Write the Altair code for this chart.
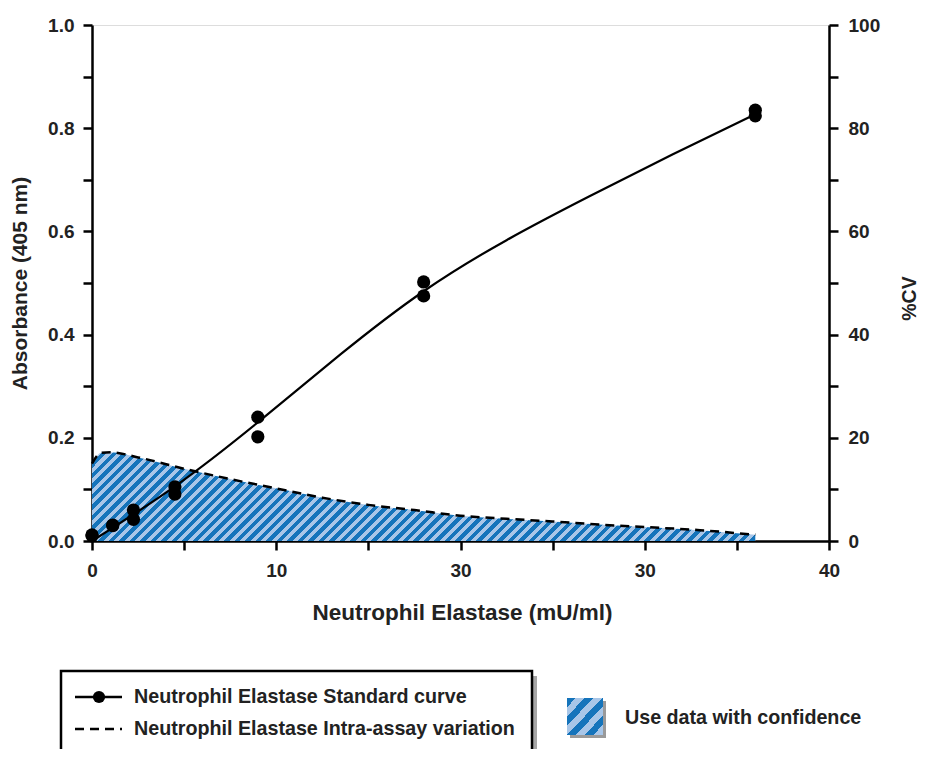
import altair as alt
import pandas as pd

# ---------------- data ----------------
std_conc = [0, 0, 1.125, 1.125, 2.25, 2.25, 4.5, 4.5, 9, 9, 18, 18, 36, 36]
std_abs = [0.012, 0.010, 0.031, 0.030, 0.060, 0.042, 0.105, 0.091, 0.240, 0.202, 0.502, 0.475, 0.835, 0.824]

fit_conc = [0, 4.5, 9, 13.5, 18, 22.5, 27, 31.5, 36]
fit_abs = [0.0, 0.106, 0.230, 0.362, 0.484, 0.583, 0.668, 0.749, 0.827]

cv_conc = [0, 0.5, 1, 2.5, 5, 7.5, 10, 12.5, 15, 17.5, 20, 22.5, 25, 27.5, 30, 33, 36]
cv_pct = [15.0, 17.1, 17.2, 16.2, 14.0, 12.0, 10.2, 8.4, 7.0, 6.0, 4.9, 4.3, 3.8, 3.2, 2.7, 2.1, 1.2]

x_tick_values = [0, 5, 10, 15, 20, 25, 30, 35, 40]
x_tick_labels = {0: "0", 10: "10", 20: "30", 30: "30", 40: "40"}
y_tick_values = [0.0, 0.1, 0.2, 0.3, 0.4, 0.5, 0.6, 0.7, 0.8, 0.9, 1.0]
y_tick_labels = {0.0: "0.0", 0.2: "0.2", 0.4: "0.4", 0.6: "0.6", 0.8: "0.8", 1.0: "1.0"}
cv_tick_values = [0, 10, 20, 30, 40, 50, 60, 70, 80, 90, 100]
cv_tick_labels = {0: "0", 20: "20", 40: "40", 60: "60", 80: "80", 100: "100"}

legend_labels = ["Neutrophil Elastase Standard curve",
                 "Neutrophil Elastase Intra-assay variation"]
zone_label = "Use data with confidence"
x_title = "Neutrophil Elastase (mU/ml)"
y_title = "Absorbance (405 nm)"
cv_title = "%CV"

# ---------------- styling ----------------
FONT = "Liberation Sans, Arial, Helvetica, sans-serif"
TXT = "#222222"
DARK = "#1574BB"
LIGHT = "#A8C6E8"
W, H = 737, 516


def label_expr(mapping):
    expr = "''"
    for v, lab in reversed(list(mapping.items())):
        expr = f"datum.value == {v} ? '{lab}' : ({expr})"
    return expr


def stripes(period, duty=0.5):
    stops = []
    k = 0
    while k * period < 1:
        a = k * period
        b = min(a + period * duty, 1)
        c = min(a + period, 1)
        stops += [alt.GradientStop(color=DARK, offset=round(a, 5)),
                  alt.GradientStop(color=DARK, offset=round(b, 5)),
                  alt.GradientStop(color=LIGHT, offset=round(b, 5)),
                  alt.GradientStop(color=LIGHT, offset=round(c, 5))]
        k += 1
    return stops


# area gradient (bbox-relative) giving ~45 degree stripes
aw = 36 / 40 * W
ah = 17.2 / 100 * H
r = ah / aw
s = (aw + ah) / (aw * (1 + r * r))
area_grad = alt.Gradient(gradient="linear", x1=0, y1=0, x2=round(s, 4), y2=round(s * r, 4),
                         stops=stripes(10.5 / (aw + ah)))
icon_grad = alt.Gradient(gradient="linear", x1=0, y1=0, x2=1, y2=1,
                         stops=stripes(18 / 73))

axis_common = dict(grid=False, domainColor="black", domainWidth=2.5, tickColor="black",
                   tickWidth=2.5, tickSize=9, labelFont=FONT, labelFontWeight="bold",
                   labelFontSize=19, labelColor=TXT, titleFont=FONT, titleFontWeight="bold",
                   titleColor=TXT, labelFlush=False, labelOverlap=False)

x_enc = alt.X("conc:Q", scale=alt.Scale(domain=[0, 40], nice=False, zero=False),
              axis=alt.Axis(values=x_tick_values, labelExpr=label_expr(x_tick_labels),
                            title=x_title, labelPadding=11, titleX=370, titleY=71,
                            titleFontSize=22.5,
                            titleBaseline="middle", titleAlign="center", **axis_common))

y_left = alt.Scale(domain=[0, 1], nice=False)
y_left_axis = alt.Axis(orient="left", values=y_tick_values, labelExpr=label_expr(y_tick_labels),
                       title=y_title, labelPadding=9, titleX=-72, titleY=258, titleAngle=-90,
                       titleFontSize=21,
                       titleBaseline="middle", titleAlign="center", **axis_common)
y_right = alt.Scale(domain=[0, 100], nice=False)
y_right_axis = alt.Axis(orient="right", values=cv_tick_values, labelExpr=label_expr(cv_tick_labels),
                        title=cv_title, labelPadding=10, titleX=80, titleY=273, titleAngle=-90,
                        titleFontSize=19.5,
                        titleBaseline="middle", titleAlign="center", **axis_common)

std_df = pd.DataFrame({"conc": std_conc, "abs": std_abs})
fit_df = pd.DataFrame({"conc": fit_conc, "abs": fit_abs})
cv_df = pd.DataFrame({"conc": cv_conc, "cv": cv_pct})

fit_line = alt.Chart(fit_df).mark_line(color="black", strokeWidth=2.2, interpolate="natural").encode(
    x=x_enc, y=alt.Y("abs:Q", scale=y_left, axis=y_left_axis))
pts = alt.Chart(std_df).mark_point(filled=True, color="black", size=175, opacity=1).encode(
    x=x_enc, y=alt.Y("abs:Q", scale=y_left, axis=y_left_axis))

cv_area = alt.Chart(cv_df).mark_area(fill=area_grad, opacity=1, interpolate="monotone").encode(
    x=x_enc, y=alt.Y("cv:Q", scale=y_right, axis=y_right_axis))
cv_line = alt.Chart(cv_df).mark_line(color="black", strokeWidth=2.5, strokeDash=[9, 6],
                                     interpolate="monotone").encode(
    x=x_enc, y=alt.Y("cv:Q", scale=y_right, axis=y_right_axis))

left = alt.layer(cv_area, cv_line)
right = alt.layer(fit_line, pts)

# ---------------- legend (drawn below the plot) ----------------
one = pd.DataFrame({"k": [0]})
box_shadow = alt.Chart(one).mark_rect(fill="#a6a6a6").encode(
    x=alt.value(-26), x2=alt.value(445), y=alt.value(651), y2=alt.value(760))
box = alt.Chart(one).mark_rect(fill="white", stroke="black", strokeWidth=2.5).encode(
    x=alt.value(-31), x2=alt.value(440), y=alt.value(646), y2=alt.value(760))
leg_line = alt.Chart(one).mark_rule(color="black", strokeWidth=2.5).encode(
    x=alt.value(-17), x2=alt.value(30), y=alt.value(672))
leg_dot = alt.Chart(one).mark_point(filled=True, color="black", size=150, opacity=1).encode(
    x=alt.value(7), y=alt.value(672))
leg_dash = alt.Chart(one).mark_rule(color="black", strokeWidth=2.5, strokeDash=[9, 6]).encode(
    x=alt.value(-17), x2=alt.value(30), y=alt.value(704))
txt_style = dict(font=FONT, fontWeight="bold", fontSize=19.7, color=TXT, align="left", baseline="middle")
leg_t1 = alt.Chart(one).mark_text(text=legend_labels[0], **txt_style).encode(
    x=alt.value(42), y=alt.value(672))
leg_t2 = alt.Chart(one).mark_text(text=legend_labels[1], **txt_style).encode(
    x=alt.value(42), y=alt.value(704))
icon_shadow = alt.Chart(one).mark_rect(fill="#9a9a9a").encode(
    x=alt.value(478), x2=alt.value(514), y=alt.value(676), y2=alt.value(713))
icon = alt.Chart(one).mark_rect(fill=icon_grad, opacity=1).encode(
    x=alt.value(475), x2=alt.value(511), y=alt.value(673), y2=alt.value(710))
icon_t = alt.Chart(one).mark_text(text=zone_label, **txt_style).encode(
    x=alt.value(533), y=alt.value(693))

legend = alt.layer(box_shadow, box, leg_line, leg_dot, leg_dash, leg_t1, leg_t2,
                   icon_shadow, icon, icon_t)

chart = alt.layer(left, right, legend).resolve_scale(y="independent").properties(
    width=W, height=H,
    padding={"left": 84, "top": 17, "right": 91, "bottom": 208},
    autosize=alt.AutoSizeParams(type="none"),
).configure_view(stroke="black", strokeWidth=2.5).configure(background="white")

chart.save("out.html", embed_options={"renderer": "svg", "actions": False})
